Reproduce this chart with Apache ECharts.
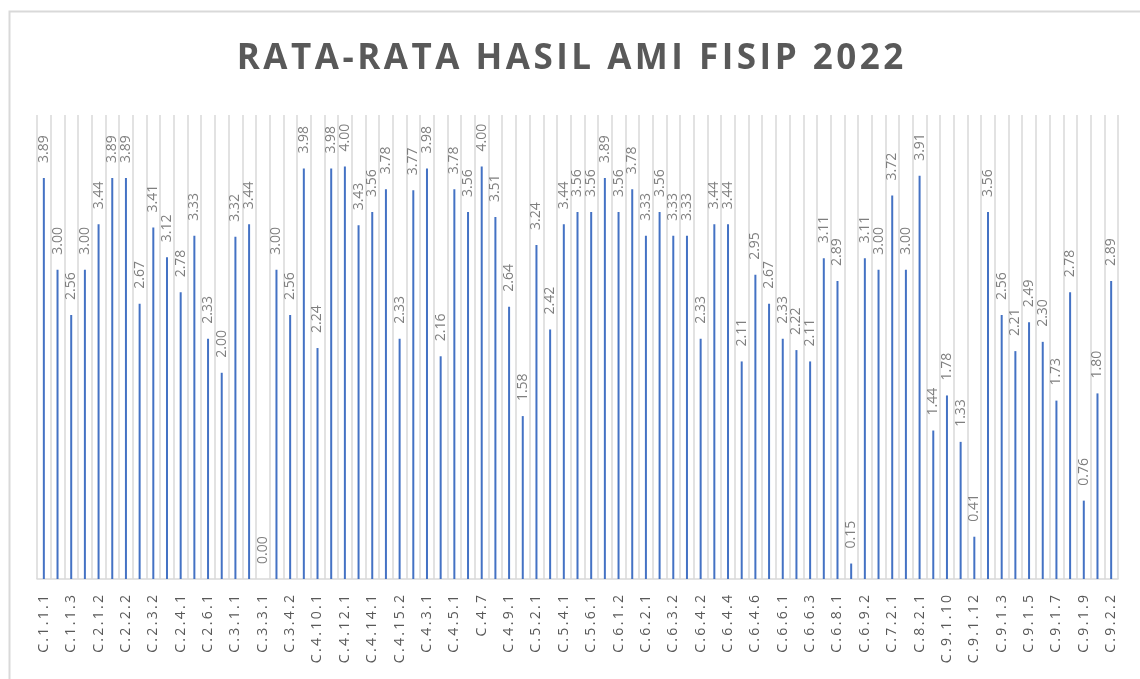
<!DOCTYPE html>
<html>
<head>
<meta charset="utf-8">
<script src="https://cdn.jsdelivr.net/npm/echarts@6/dist/echarts.min.js"></script>
<style>
html,body{margin:0;padding:0;background:#fff;}
#chart{width:1140px;height:679px;}
</style>
</head>
<body>
<div id="chart"></div>
<script>
const titleText = 'RATA-RATA HASIL AMI FISIP 2022';
const categories = [
  'C.1.1.1','C.1.1.2','C.1.1.3','C.2.1.1','C.2.1.2','C.2.2.1','C.2.2.2','C.2.3.1','C.2.3.2','C.2.3.3',
  'C.2.4.1','C.2.5.1','C.2.6.1','C.2.7.1','C.3.1.1','C.3.2.1','C.3.3.1','C.3.4.1','C.3.4.2','C.4.1.1',
  'C.4.10.1','C.4.11.1','C.4.12.1','C.4.13.1','C.4.14.1','C.4.15.1','C.4.15.2','C.4.2.1','C.4.3.1','C.4.4.1',
  'C.4.5.1','C.4.6.1','C.4.7','C.4.8.1','C.4.9.1','C.5.1.1','C.5.2.1','C.5.3.1','C.5.4.1','C.5.5.1',
  'C.5.6.1','C.6.1.1','C.6.1.2','C.6.1.3','C.6.2.1','C.6.3.1','C.6.3.2','C.6.4.1','C.6.4.2','C.6.4.3',
  'C.6.4.4','C.6.4.5','C.6.4.6','C.6.5.1','C.6.6.1','C.6.6.2','C.6.6.3','C.6.7.1','C.6.8.1','C.6.9.1',
  'C.6.9.2','C.7.1.1','C.7.2.1','C.8.1.1','C.8.2.1','C.9.1.1','C.9.1.10','C.9.1.11','C.9.1.12','C.9.1.2',
  'C.9.1.3','C.9.1.4','C.9.1.5','C.9.1.6','C.9.1.7','C.9.1.8','C.9.1.9','C.9.2.1','C.9.2.2'
];
const values = [
  3.89,3.00,2.56,3.00,3.44,3.89,3.89,2.67,3.41,3.12,
  2.78,3.33,2.33,2.00,3.32,3.44,0.00,3.00,2.56,3.98,
  2.24,3.98,4.00,3.43,3.56,3.78,2.33,3.77,3.98,2.16,
  3.78,3.56,4.00,3.51,2.64,1.58,3.24,2.42,3.44,3.56,
  3.56,3.89,3.56,3.78,3.33,3.56,3.33,3.33,2.33,3.44,
  3.44,2.11,2.95,2.67,2.33,2.22,2.11,3.11,2.89,0.15,
  3.11,3.00,3.72,3.00,3.91,1.44,1.78,1.33,0.41,3.56,
  2.56,2.21,2.49,2.30,1.73,2.78,0.76,1.80,2.89
];

const spaced = (s, sp) => s.split('').join(sp);

const chart = echarts.init(document.getElementById('chart'), null, {renderer:'canvas'});
chart.setOption({
  backgroundColor: '#ffffff',
  animation: false,
  title: {
    text: spaced(titleText, '\u200A'),
    left: 'center',
    top: 37,
    textStyle: {fontFamily: 'Open Sans', fontWeight: 'bold', fontSize: 35, color: '#595959'}
  },
  graphic: [{
    type: 'rect', left: 7, top: 9, silent: true,
    shape: {width: 1200, height: 800},
    style: {fill: 'none', stroke: '#d9d9d9', lineWidth: 2}
  }],
  grid: {left: 37, right: 22, top: 115, bottom: 100, containLabel: false},
  xAxis: {
    type: 'category',
    data: categories,
    boundaryGap: true,
    axisTick: {show: false},
    axisLine: {show: true, lineStyle: {color: '#d9d9d9', width: 1.5}},
    splitLine: {show: true, interval: 0, lineStyle: {color: '#d9d9d9', width: 1.5}},
    axisLabel: {
      interval: 1, rotate: 90, margin: 16, color: '#595959',
      fontFamily: 'Open Sans', fontSize: 14,
      formatter: v => spaced(v, '\u2009')
    }
  },
  yAxis: {
    type: 'value', min: 0, max: 4.5, interval: 0.5, show: false,
    splitLine: {show: false}
  },
  series: [{
    type: 'bar',
    data: values,
    barWidth: 2,
    itemStyle: {color: '#4472C4'},
    label: {
      show: true, position: 'top', rotate: 90, align: 'left', verticalAlign: 'middle',
      distance: 15, color: '#7f7f7f', fontFamily: 'Open Sans', fontSize: 14,
      formatter: p => p.value.toFixed(2)
    }
  }]
});
</script>
</body>
</html>
